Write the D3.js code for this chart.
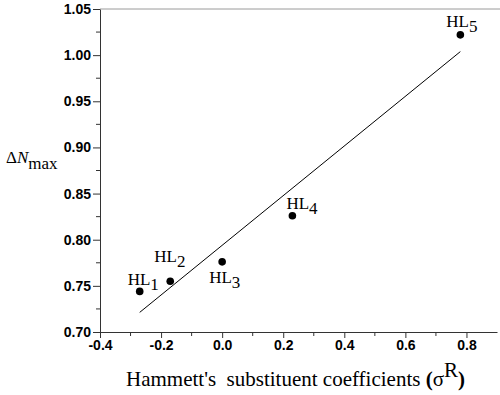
<!DOCTYPE html>
<html lang="en">
<head>
    <meta charset="UTF-8">
    <title>Hammett plot</title>
    <script src="https://cdn.jsdelivr.net/npm/d3@7"></script>
    <style>
        body { margin: 0; background: #fff; }
    </style>
</head>
<body>
<script>
    // data
    let labels = ['1', '2', '3', '4', '5'];
    let sigmaR = [-0.27, -0.17, 0.0, 0.23, 0.78];
    let deltaN = [0.744, 0.755, 0.776, 0.826, 1.022];
    let xTicks = [-0.4, -0.2, 0.0, 0.2, 0.4, 0.6, 0.8];
    let yTicks = [0.70, 0.75, 0.80, 0.85, 0.90, 0.95, 1.00, 1.05];
    // label offsets relative to each point (dx, dy of the "HL" baseline)
    let labelDx = [-12, -16, -13, -6, -14];
    let labelDy = [-6, -19, 21, -7, -8];

    let width = 500, height = 395;
    let mLeft = 100, mRight = 497, mTop = 9, mBottom = 332;

    let svg = d3.select('body').append('svg')
        .attr('width', width)
        .attr('height', height);

    let x = d3.scaleLinear().domain([-0.4, 0.9]).range([mLeft, mRight]);
    let y = d3.scaleLinear().domain([0.70, 1.05]).range([mBottom, mTop]);

    // top frame line
    svg.append('line')
        .attr('x1', mLeft).attr('x2', width)
        .attr('y1', y(1.05)).attr('y2', y(1.05))
        .attr('stroke', '#9a9a9a').attr('stroke-width', 1);

    // minor ticks
    let xMinor = d3.range(-0.3, 0.9, 0.2);
    let yMinor = d3.range(0.725, 1.05, 0.05);

    let xAxis = svg.append('g')
        .attr('transform', 'translate(0,' + mBottom + ')')
        .call(d3.axisBottom(x).tickValues(xTicks).tickFormat(d => d.toFixed(1)).tickSize(6).tickPadding(2).tickSizeOuter(0));
    xAxis.selectAll('.minor').data(xMinor).enter().append('line')
        .attr('class', 'minor')
        .attr('x1', d => x(d)).attr('x2', d => x(d))
        .attr('y1', 0).attr('y2', 4)
        .attr('stroke', '#333');

    let yAxis = svg.append('g')
        .attr('transform', 'translate(' + mLeft + ',0)')
        .call(d3.axisLeft(y).tickValues(yTicks).tickFormat(d => d.toFixed(2)).tickSize(7).tickPadding(2).tickSizeOuter(0));
    yAxis.selectAll('.minor').data(yMinor).enter().append('line')
        .attr('class', 'minor')
        .attr('x1', 0).attr('x2', -4)
        .attr('y1', d => y(d)).attr('y2', d => y(d))
        .attr('stroke', '#333');

    svg.selectAll('.domain, .tick line').attr('stroke', '#333');
    svg.selectAll('.tick text')
        .attr('font-family', '"Liberation Sans", Arial, sans-serif')
        .attr('font-weight', 'bold')
        .attr('font-size', 14)
        .attr('fill', '#000');

    // least squares fit through the points
    let mx = d3.mean(sigmaR), my = d3.mean(deltaN);
    let sxy = d3.sum(sigmaR, (v, i) => (v - mx) * (deltaN[i] - my));
    let sxx = d3.sum(sigmaR, v => (v - mx) * (v - mx));
    let slope = sxy / sxx;
    let intercept = my - slope * mx;
    let xr = d3.extent(sigmaR);

    svg.append('line')
        .attr('x1', x(xr[0])).attr('y1', y(intercept + slope * xr[0]))
        .attr('x2', x(xr[1])).attr('y2', y(intercept + slope * xr[1]))
        .attr('stroke', '#000').attr('stroke-width', 1);

    // points
    svg.selectAll('circle').data(sigmaR).enter().append('circle')
        .attr('cx', d => x(d))
        .attr('cy', (d, i) => y(deltaN[i]))
        .attr('r', 3.8)
        .attr('fill', '#000');

    // point labels HL with subscript
    let lab = svg.selectAll('.lab').data(labels).enter().append('text')
        .attr('class', 'lab')
        .attr('x', (d, i) => x(sigmaR[i]) + labelDx[i])
        .attr('y', (d, i) => y(deltaN[i]) + labelDy[i])
        .attr('font-family', '"Liberation Serif", "Times New Roman", serif')
        .attr('font-size', 17);
    lab.append('tspan').text('HL');
    lab.append('tspan').attr('dy', 5).text(d => d);

    // y axis title
    let yt = svg.append('text')
        .attr('x', 6).attr('y', 163)
        .attr('font-family', '"Liberation Serif", "Times New Roman", serif')
        .attr('font-size', 17);
    yt.append('tspan').text('Δ');
    yt.append('tspan').attr('font-style', 'italic').text('N');
    yt.append('tspan').attr('dy', 6).text('max');

    // x axis title
    let xt = svg.append('text')
        .attr('x', 126).attr('y', 386)
        .attr('font-family', '"Liberation Serif", "Times New Roman", serif')
        .attr('font-size', 21);
    xt.append('tspan').text('Hammett\'s\u00a0 substituent coefficients ');
    xt.append('tspan').attr('font-weight', 'bold').text('(');
    xt.append('tspan').text('σ');
    xt.append('tspan').attr('dy', -9).text('R');
    xt.append('tspan').attr('dy', 9).attr('font-weight', 'bold').text(')');
</script>
</body>
</html>
